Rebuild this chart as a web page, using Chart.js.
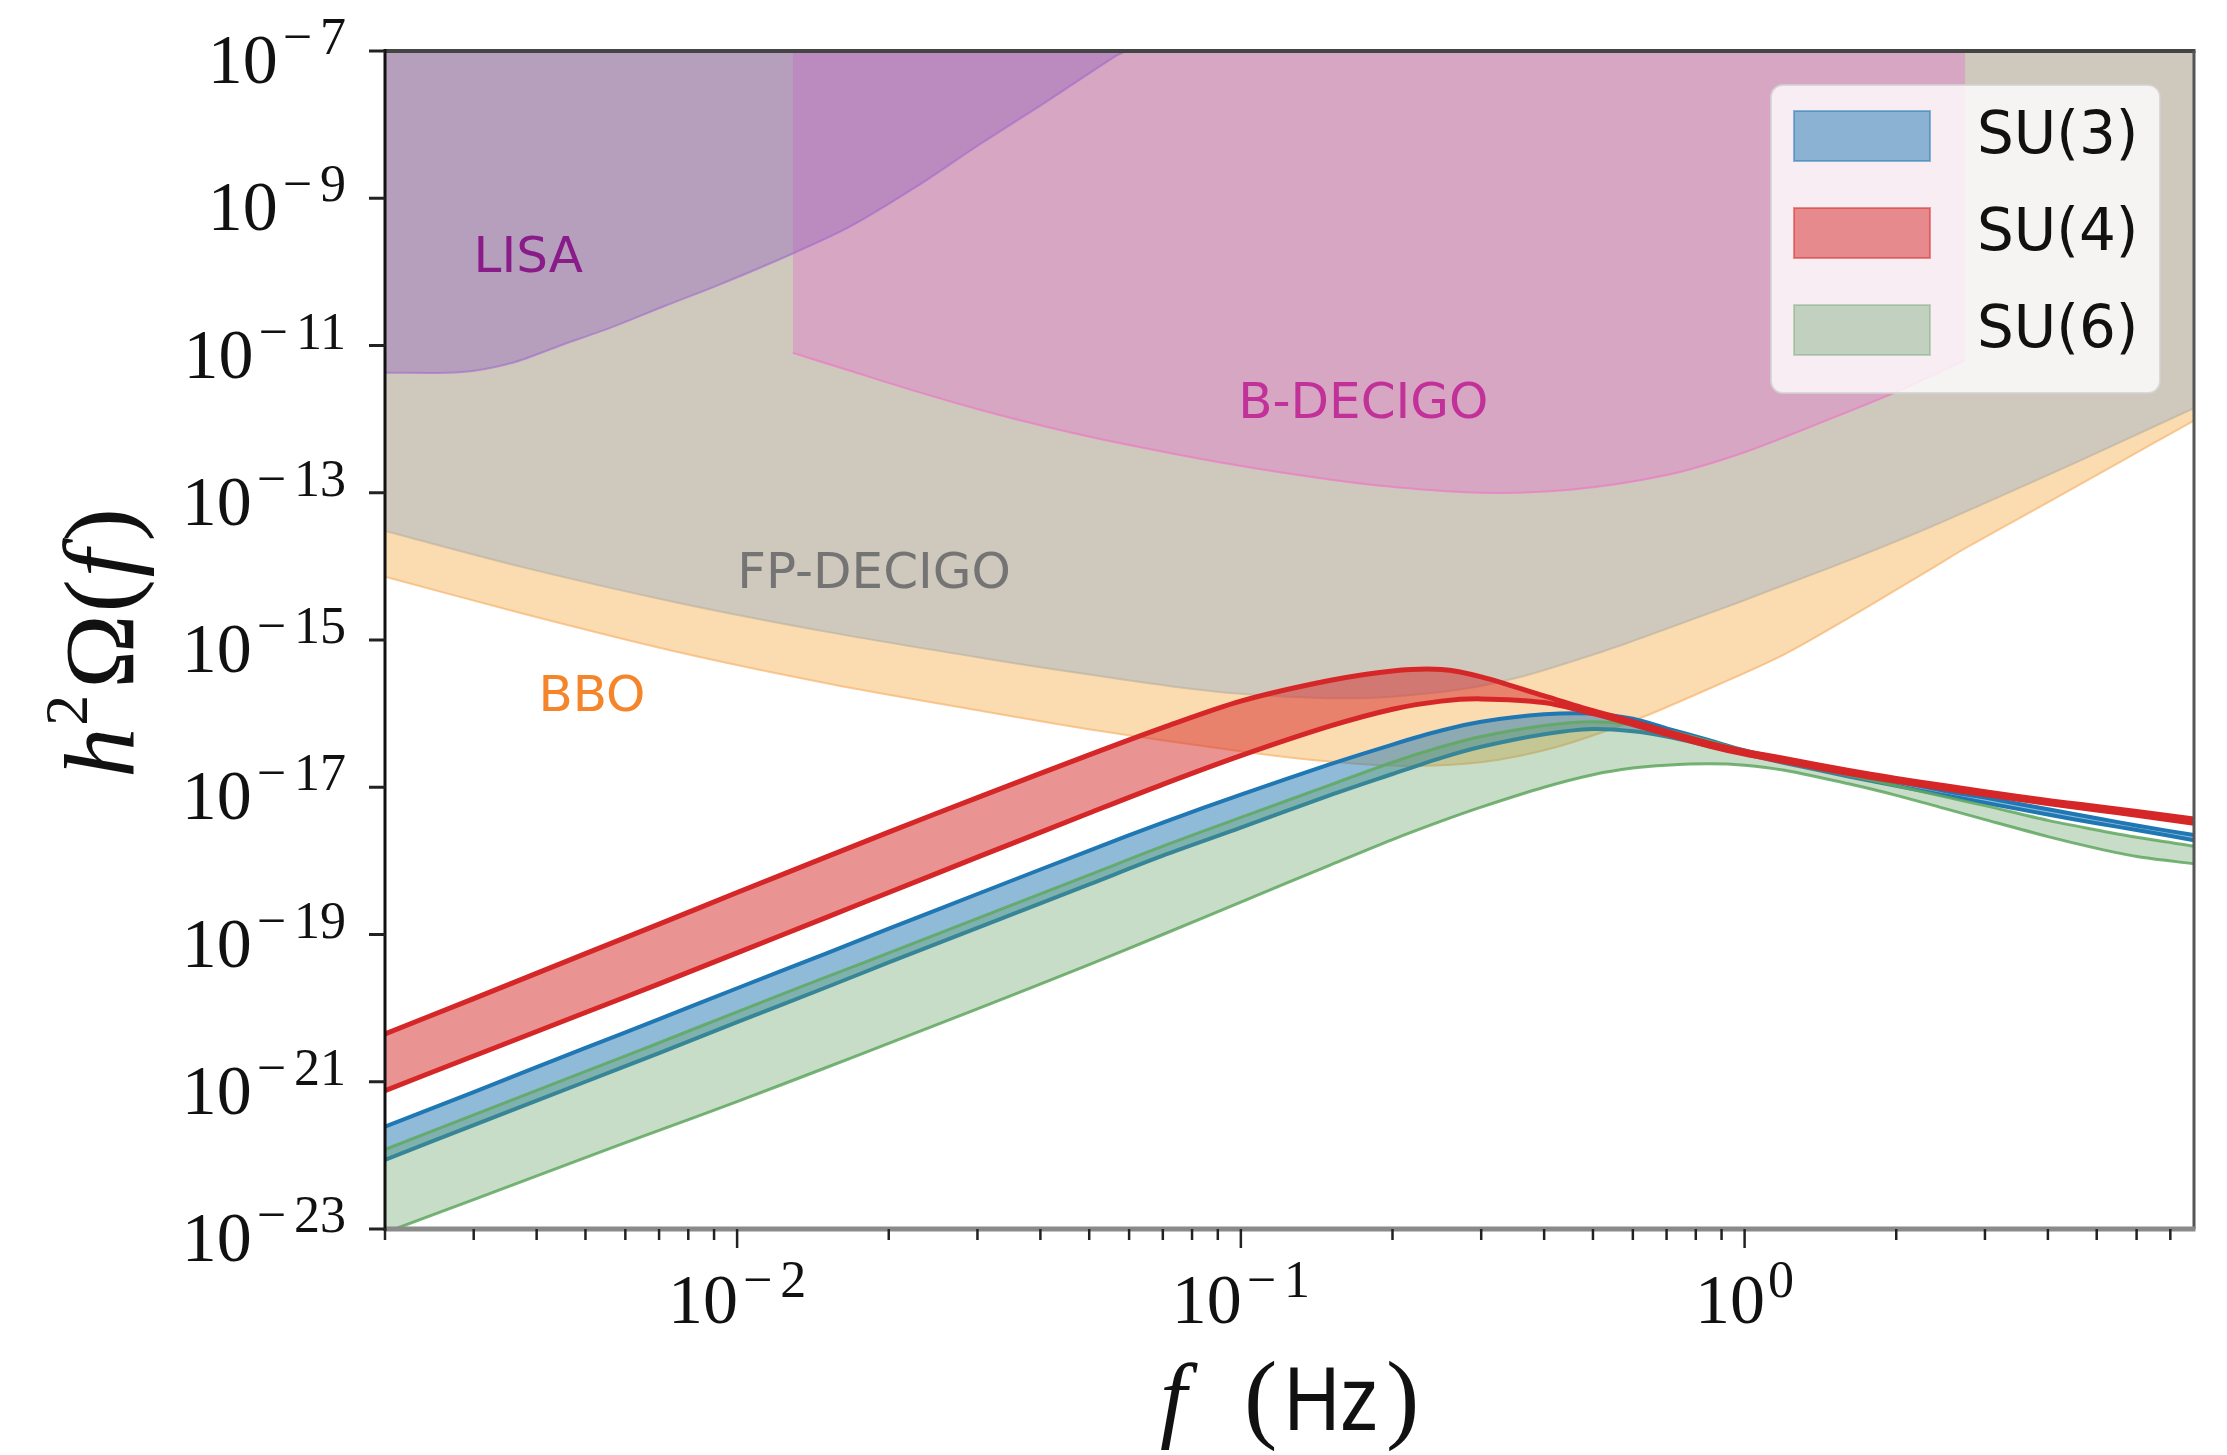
<!DOCTYPE html>
<html lang="en">
<head>
<meta charset="UTF-8">
<title>SU(N) gravitational wave spectra</title>
<script src="https://cdn.jsdelivr.net/npm/chart.js@4.4.1/dist/chart.umd.min.js"></script>
<style>
  html, body { margin: 0; padding: 0; background: #fff; }
  canvas { display: block; }
</style>
</head>
<body>
<canvas id="gwChart" width="2227" height="1455"></canvas>
<script>
// frequency grid of the SU(N) bands, Hz
const freqs = [0.002, 0.003, 0.005, 0.007, 0.01, 0.015, 0.02, 0.03, 0.05, 0.07, 0.1, 0.15, 0.2, 0.25, 0.3,
               0.4, 0.5, 0.6, 0.7, 0.85, 1, 1.2, 1.6, 2, 2.5, 3, 4, 5, 6, 7.8];

// log10 h^2 Omega(f) : upper / lower edge of each band
const su3Upper = [-21.61, -21.14, -20.54, -20.15, -19.73, -19.26, -18.92, -18.45, -17.86, -17.48, -17.1, -16.69, -16.42, -16.23, -16.11,
                  -16.01, -16.0, -16.07, -16.2, -16.36, -16.5, -16.62, -16.79, -16.92, -17.05, -17.14, -17.3, -17.42, -17.52, -17.65];
const su3Lower = [-22.06, -21.59, -21.0, -20.61, -20.19, -19.72, -19.38, -18.91, -18.32, -17.93, -17.55, -17.11, -16.82, -16.6, -16.45,
                  -16.28, -16.21, -16.24, -16.31, -16.44, -16.55, -16.67, -16.85, -16.98, -17.11, -17.21, -17.37, -17.49, -17.58, -17.72];
const su4Upper = [-20.35, -19.87, -19.26, -18.86, -18.43, -17.95, -17.61, -17.14, -16.56, -16.19, -15.83, -15.55, -15.42, -15.4, -15.5,
                  -15.76, -15.96, -16.11, -16.24, -16.4, -16.51, -16.61, -16.77, -16.88, -16.98, -17.06, -17.18, -17.26, -17.33, -17.43];
const su4Lower = [-21.12, -20.65, -20.06, -19.67, -19.25, -18.77, -18.43, -17.95, -17.35, -16.96, -16.57, -16.17, -15.94, -15.83, -15.8,
                  -15.85, -16.0, -16.15, -16.28, -16.44, -16.55, -16.65, -16.81, -16.92, -17.02, -17.1, -17.22, -17.31, -17.38, -17.49];
const su6Upper = [-21.92, -21.45, -20.86, -20.47, -20.05, -19.58, -19.25, -18.78, -18.19, -17.8, -17.41, -16.97, -16.66, -16.45, -16.31,
                  -16.16, -16.11, -16.15, -16.23, -16.37, -16.5, -16.63, -16.83, -16.98, -17.13, -17.25, -17.45, -17.58, -17.68, -17.8];
const su6Lower = [-23.05, -22.6, -22.03, -21.66, -21.27, -20.81, -20.48, -20.01, -19.41, -19.0, -18.56, -18.06, -17.71, -17.46, -17.27,
                  -17.0, -16.83, -16.74, -16.7, -16.68, -16.7, -16.77, -16.95, -17.11, -17.29, -17.44, -17.67, -17.83, -17.94, -18.04];

// detector sensitivity curves (log10), region above each curve is shaded
const lisaFreq = [0.002, 0.00285, 0.0036, 0.0045, 0.0057, 0.0072, 0.0091, 0.0129, 0.0167, 0.0226, 0.0306, 0.0415, 0.0561, 0.0592];
const lisaLog  = [-11.37, -11.36, -11.23, -10.99, -10.74, -10.46, -10.19, -9.75, -9.39, -8.85, -8.25, -7.67, -7.08, -7.0];
const bdecFreq = [0.0129, 0.0167, 0.0226, 0.0306, 0.0415, 0.0561, 0.095, 0.15, 0.2, 0.3, 0.45, 0.7, 1, 1.5, 2, 2.74];
const bdecLog  = [-11.1, -11.34, -11.62, -11.88, -12.11, -12.31, -12.61, -12.82, -12.92, -13.0, -12.96, -12.76, -12.45, -11.98, -11.63, -11.2];
const fpFreq   = [0.002, 0.0038, 0.0077, 0.0154, 0.031, 0.05, 0.073, 0.1, 0.15, 0.2, 0.28, 0.355, 0.45, 0.58,
                  0.81, 0.99, 1.18, 1.5, 1.81, 2.35, 3, 4, 5.5, 7.8];
const fpLog    = [-13.52, -14.02, -14.5, -14.9, -15.25, -15.47, -15.63, -15.73, -15.79, -15.77, -15.66, -15.51, -15.3, -15.05,
                  -14.69, -14.47, -14.27, -14.0, -13.78, -13.46, -13.14, -12.76, -12.33, -11.85];
const bboFreq  = [0.002, 0.0038, 0.0077, 0.0154, 0.031, 0.053, 0.105, 0.15, 0.21, 0.3, 0.42, 0.6, 0.8, 1.18, 1.61,
                  2.35, 2.78, 4, 5.5, 7.8];
const bboLog   = [-14.14, -14.65, -15.17, -15.6, -15.97, -16.24, -16.53, -16.65, -16.71, -16.66, -16.46, -16.1, -15.74, -15.22, -14.7,
                  -14.03, -13.73, -13.13, -12.6, -12.02];

// tick labels (powers of ten)
const yTickExps = [-7, -9, -11, -13, -15, -17, -19, -21, -23];
const xTickExps = [-2, -1, 0];

const legendNames = ['SU(3)', 'SU(4)', 'SU(6)'];

const blue  = { line: '#1f77b4', fill: 'rgba(31,119,180,0.5)' };
const red   = { line: '#d62728', fill: 'rgba(214,39,40,0.5)' };
const green = { line: 'rgba(95,168,95,0.85)', fill: 'rgba(100,162,100,0.36)' };

const serif = '"Liberation Serif", "DejaVu Serif", serif';
const sans  = '"DejaVu Sans", sans-serif';

const toPts = (fs, logs) => fs.map((f, i) => ({ x: f, y: Math.pow(10, logs[i]) }));

function band(name, up, lo, col, w) {
    return [
        { label: name, data: toPts(freqs, up), borderColor: col.line, borderWidth: w, backgroundColor: col.fill, fill: '+1' },
        { label: name + ' low', data: toPts(freqs, lo), borderColor: col.line, borderWidth: w, fill: false }
    ];
}

function detector(name, fs, logs, fillCol, edgeCol) {
    return { label: name, data: toPts(fs, logs), backgroundColor: fillCol, borderColor: edgeCol, borderWidth: 2, fill: 'end' };
}

// 10^n label, y axis labels are right aligned, x axis labels centred
function powLabel(c, exp, px, py, axis) {
    const minus = exp < 0 ? '\u2212' : '';
    const digits = String(Math.abs(exp));
    c.font = '70px ' + serif;
    const wb = c.measureText('10').width;
    c.font = '52px ' + serif;
    const wm = minus ? c.measureText(minus).width + 10 : 0;
    const wd = c.measureText(digits).width;
    const ws = wm + wd;
    const gap = 3;
    let x0, yb, ys;
    if (axis === 'y') { x0 = px - ws - gap - wb; yb = py + 32; ys = py + 3; }
    else { x0 = px - (wb + gap + ws) / 2; yb = py; ys = py - 26; }
    c.textAlign = 'left';
    c.textBaseline = 'alphabetic';
    c.font = '70px ' + serif;
    c.fillText('10', x0, yb);
    c.font = '52px ' + serif;
    if (minus) c.fillText(minus, x0 + wb + gap + 2, ys);
    c.fillText(digits, x0 + wb + gap + wm, ys);
}

const decor = {
    id: 'decor',
    afterDraw(chart) {
        const c = chart.ctx;
        const a = chart.chartArea;
        const x = chart.scales.x, y = chart.scales.y;
        c.save();

        // region names
        const names = [
            { t: 'LISA',      f: 0.00385, v: 1.65e-10, col: '#8a1c8a' },
            { t: 'B-DECIGO',  f: 0.175,   v: 1.7e-12,  col: '#c2309a' },
            { t: 'FP-DECIGO', f: 0.0187,  v: 8.3e-15,  col: '#747474' },
            { t: 'BBO',       f: 0.00515, v: 1.8e-16,  col: '#f5852a' }
        ];
        c.font = '50px ' + sans;
        c.textAlign = 'center';
        c.textBaseline = 'middle';
        names.forEach(n => {
            c.fillStyle = n.col;
            c.fillText(n.t, x.getPixelForValue(n.f), y.getPixelForValue(n.v) + 3);
        });

        // frame
        c.lineCap = 'butt';
        c.strokeStyle = '#444'; c.lineWidth = 4;
        c.beginPath(); c.moveTo(a.left, a.top); c.lineTo(a.right + 1.5, a.top); c.stroke();
        c.strokeStyle = '#555'; c.lineWidth = 3;
        c.beginPath(); c.moveTo(a.right, a.top); c.lineTo(a.right, a.bottom); c.stroke();
        c.strokeStyle = '#8a8a8a'; c.lineWidth = 5;
        c.beginPath(); c.moveTo(a.left, a.bottom); c.lineTo(a.right + 1.5, a.bottom); c.stroke();
        c.strokeStyle = '#111'; c.lineWidth = 3;
        c.beginPath(); c.moveTo(a.left, a.top - 2); c.lineTo(a.left, a.bottom + 2); c.stroke();

        // y ticks
        c.fillStyle = '#111';
        c.strokeStyle = '#222'; c.lineWidth = 3;
        yTickExps.forEach(e => {
            const py = y.getPixelForValue(Math.pow(10, e));
            c.beginPath(); c.moveTo(a.left - 16, py); c.lineTo(a.left, py); c.stroke();
            powLabel(c, e, 346, py, 'y');
        });

        // x ticks, minor then major
        c.lineWidth = 2.5;
        for (let d = -3; d <= 0; d++) {
            for (let k = 2; k <= 9; k++) {
                const v = k * Math.pow(10, d);
                if (v < x.min || v > x.max) continue;
                const px = x.getPixelForValue(v);
                c.beginPath(); c.moveTo(px, a.bottom); c.lineTo(px, a.bottom + 11); c.stroke();
            }
        }
        xTickExps.forEach(e => {
            const px = x.getPixelForValue(Math.pow(10, e));
            c.beginPath(); c.moveTo(px, a.bottom); c.lineTo(px, a.bottom + 19); c.stroke();
            powLabel(c, e, px, a.bottom + 94, 'x');
        });

        // axis titles
        c.fillStyle = '#111';
        c.textBaseline = 'alphabetic';
        c.textAlign = 'left';
        c.font = 'italic 96px ' + serif;
        c.fillText('f', 1160, 1430);
        c.font = '100px ' + serif;
        c.fillText('(', 1244, 1430);
        c.fillText(')', 1386, 1430);
        c.save();
        c.translate(1284, 1430);
        c.scale(0.86, 1);
        c.font = '90px "Liberation Sans", sans-serif';
        c.fillText('Hz', 0, 0);
        c.restore();

        c.save();
        c.translate(133, (a.top + a.bottom) / 2 + 3);
        c.rotate(-Math.PI / 2);
        const parts = [
            { t: 'h', font: 'italic 100px ' + serif, dy: 0, pad: 2 },
            { t: '2', font: '62px ' + serif, dy: -46, pad: 6 },
            { t: '\u03A9', font: '100px ' + serif, dy: 0, pad: 2 },
            { t: '(', font: '100px ' + serif, dy: 0, pad: 2 },
            { t: 'f', font: 'italic 100px ' + serif, dy: 0, pad: 8 },
            { t: ')', font: '100px ' + serif, dy: 0, pad: 0 }
        ];
        let total = 0;
        parts.forEach(p => { c.font = p.font; p.w = c.measureText(p.t).width; total += p.w + p.pad; });
        let cx = -total / 2;
        parts.forEach(p => { c.font = p.font; c.fillText(p.t, cx, p.dy); cx += p.w + p.pad; });
        c.restore();

        // legend
        const lx = a.right - 423, ly = a.top + 34, lw = 389, lh = 308;
        c.beginPath();
        c.roundRect(lx, ly, lw, lh, 12);
        c.fillStyle = 'rgba(255,255,255,0.8)';
        c.fill();
        c.strokeStyle = 'rgba(210,210,210,0.8)';
        c.lineWidth = 2;
        c.stroke();
        const cols = [blue, red, green];
        c.font = '58px ' + sans;
        c.textBaseline = 'middle';
        legendNames.forEach((nm, i) => {
            const cy = ly + 51 + i * 97;
            c.fillStyle = cols[i].fill;
            c.fillRect(lx + 23, cy - 25, 136, 50);
            c.strokeStyle = cols[i].fill;
            c.lineWidth = 2;
            c.strokeRect(lx + 23, cy - 25, 136, 50);
            c.fillStyle = '#111';
            c.fillText(nm, lx + 206, cy + 2);
        });

        c.restore();
    }
};

const datasets = [
    ...band('SU(4)', su4Upper, su4Lower, red, 5),
    ...band('SU(6)', su6Upper, su6Lower, green, 3),
    ...band('SU(3)', su3Upper, su3Lower, blue, 4),
    detector('LISA', lisaFreq, lisaLog, 'rgba(148,103,189,0.42)', 'rgba(160,105,205,0.6)'),
    detector('B-DECIGO', bdecFreq, bdecLog, '#d7a6c2', 'rgba(232,128,196,0.8)'),
    detector('FP-DECIGO', fpFreq, fpLog, '#cfc8bc', 'rgba(185,175,160,0.6)'),
    detector('BBO', bboFreq, bboLog, '#fbdcb0', 'rgba(246,180,110,0.7)')
];

new Chart(document.getElementById('gwChart').getContext('2d'), {
    type: 'line',
    data: { datasets: datasets },
    options: {
        responsive: false,
        animation: false,
        events: [],
        layout: { padding: { left: 0, top: 51, right: 33, bottom: 0 } },
        elements: {
            point: { radius: 0 },
            line: { tension: 0.3 }
        },
        scales: {
            x: {
                type: 'logarithmic', min: 0.002, max: 7.8,
                ticks: { display: false }, grid: { display: false }, border: { display: false },
                afterFit: s => { s.height = 226; }
            },
            y: {
                type: 'logarithmic', min: 1e-23, max: 1e-7,
                ticks: { display: false }, grid: { display: false }, border: { display: false },
                afterFit: s => { s.width = 385; }
            }
        },
        plugins: {
            legend: { display: false },
            tooltip: { enabled: false }
        }
    },
    plugins: [decor]
});
</script>
</body>
</html>
